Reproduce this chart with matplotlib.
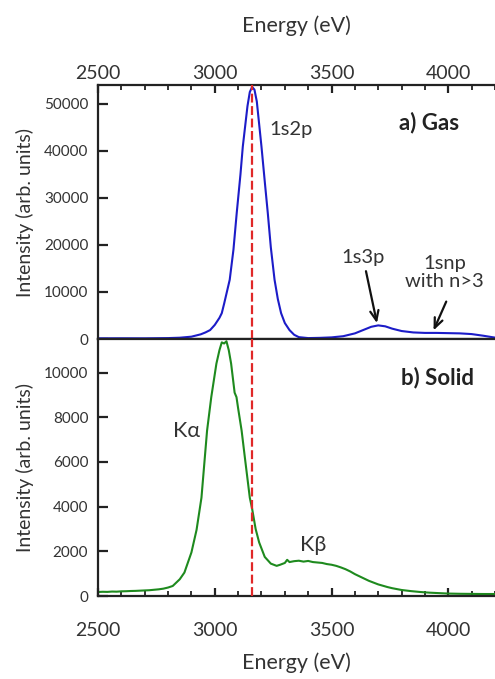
import matplotlib
matplotlib.use("Agg")
import matplotlib.pyplot as plt
from matplotlib.ticker import MultipleLocator

plt.rcParams['font.family'] = ['Lato', 'DejaVu Sans']

# Gas spectrum (panel a)
gas_energy = [2500, 2600, 2700, 2800, 2850, 2900, 2940, 2960, 2980, 3000, 3020, 3030,
              3040, 3064, 3080, 3094, 3110, 3120, 3140, 3150, 3160, 3170, 3180, 3200,
              3215, 3227, 3240, 3256, 3270, 3284, 3300, 3320, 3340, 3360, 3400, 3450,
              3500, 3550, 3600, 3640, 3670, 3700, 3730, 3760, 3800, 3850, 3900, 3950,
              4000, 4050, 4100, 4150, 4200]
gas_intensity = [150, 160, 150, 200, 280, 500, 1000, 1400, 1900, 3000, 4500, 5500,
                 7500, 12600, 19000, 26800, 35000, 40900, 49500, 52500, 53600, 53000, 50500, 40900,
                 33000, 26800, 19500, 12600, 8500, 5500, 3400, 1900, 900, 400, 200, 250,
                 350, 600, 1200, 2000, 2600, 2900, 2700, 2200, 1700, 1400, 1300, 1300,
                 1250, 1200, 1050, 700, 300]

# Solid spectrum (panel b)
solid_energy = [2500, 2520, 2540, 2560, 2580, 2600, 2620, 2640, 2660, 2680, 2700, 2720,
                2740, 2760, 2780, 2800, 2820, 2850, 2870, 2885, 2900, 2922, 2943, 2967,
                2985, 3007, 3020, 3030, 3040, 3050, 3060, 3070, 3085, 3093, 3100, 3115,
                3130, 3150, 3160, 3175, 3190, 3214, 3240, 3265, 3280, 3300, 3310, 3320,
                3340, 3360, 3380, 3400, 3420, 3440, 3460, 3480, 3500, 3520, 3540, 3560,
                3580, 3600, 3620, 3640, 3660, 3680, 3700, 3720, 3740, 3760, 3780, 3800,
                3840, 3880, 3920, 3960, 4000, 4050, 4100, 4150, 4200]
solid_intensity = [180, 190, 185, 200, 195, 210, 215, 225, 230, 240, 250, 260,
                   280, 300, 330, 380, 450, 750, 1050, 1500, 1950, 2960, 4400, 7400,
                   8900, 10400, 11000, 11350, 11300, 11400, 11000, 10400, 9100, 8900, 8400, 7400,
                   6100, 4400, 3900, 3000, 2400, 1750, 1450, 1350, 1400, 1480, 1620, 1520,
                   1560, 1580, 1540, 1570, 1520, 1500, 1480, 1430, 1400, 1350, 1280, 1200,
                   1100, 980, 880, 780, 680, 600, 520, 460, 400, 350, 310, 270,
                   220, 180, 150, 130, 110, 100, 95, 90, 90]

ref_energy = 3160

gas_ticks = [0, 10000, 20000, 30000, 40000, 50000]
solid_ticks = [0, 2000, 4000, 6000, 8000, 10000]
x_ticks = [2500, 3000, 3500, 4000]

fig = plt.figure(figsize=(4.95, 6.79), dpi=100)
left, width = 0.198, 0.802
ax1 = fig.add_axes([left, 0.5007, width, 0.3741])
ax2 = fig.add_axes([left, 0.1222, width, 0.3785], sharex=ax1)

blue = '#1c1cc8'
green = '#1e8a1e'
red = '#e02828'
spine_c = '#222222'
tick_c = '#333333'

ax1.plot(gas_energy, gas_intensity, color=blue, lw=1.5)
ax2.plot(solid_energy, solid_intensity, color=green, lw=1.5)

for ax in (ax1, ax2):
    ax.axvline(ref_energy, color=red, lw=1.6, ls=(0, (4, 1.6)), zorder=5)
    ax.spines['right'].set_visible(False)
    for s in ('left', 'top', 'bottom'):
        ax.spines[s].set_color(spine_c)
        ax.spines[s].set_linewidth(1.6)
    ax.tick_params(axis='y', direction='in', length=7, width=1.6, color=spine_c,
                   labelsize=11, labelcolor=tick_c, pad=7)

ax1.set_xlim(2500, 4200)
ax1.set_ylim(0, 54000)
ax2.set_ylim(0, 11500)
ax1.set_yticks(gas_ticks)
ax2.set_yticks(solid_ticks)

ax1.set_xticks(x_ticks)
ax1.xaxis.set_minor_locator(MultipleLocator(100))
ax1.xaxis.tick_top()
ax1.xaxis.set_label_position('top')
ax1.tick_params(axis='x', which='major', direction='in', length=6, width=1.6,
                color=spine_c, labelsize=14, labelcolor=tick_c, pad=2,
                top=True, bottom=False, labeltop=True, labelbottom=False)
ax1.tick_params(axis='x', which='minor', direction='in', length=3.8, width=1.3,
                color=spine_c, top=True, bottom=False)
ax2.tick_params(axis='x', which='major', direction='in', length=6, width=1.6,
                color=spine_c, labelsize=14, labelcolor=tick_c, pad=19,
                top=False, bottom=True, labeltop=False, labelbottom=True)
ax2.tick_params(axis='x', which='minor', direction='in', length=3.8, width=1.3,
                color=spine_c, top=False, bottom=True)

ax1.set_xlabel('Energy (eV)', fontsize=15.5, color=tick_c, labelpad=24)
ax2.set_xlabel('Energy (eV)', fontsize=15.5, color=tick_c, labelpad=9)
ax1.set_ylabel('Intensity (arb. units)', fontsize=14, color=tick_c, labelpad=7)
ax2.set_ylabel('Intensity (arb. units)', fontsize=14, color=tick_c, labelpad=7)

# Annotations panel a
ax1.text(3235, 44500, '1s2p', fontsize=14.5, color=tick_c, va='center', ha='left')
ax1.text(4047, 46000, 'a) Gas', fontsize=16, fontweight='bold', color='#222222',
         va='center', ha='right')
ax1.text(3637, 17400, '1s3p', fontsize=14.5, color=tick_c, va='center', ha='center')
ax1.text(3983, 14200, '1snp\nwith n>3', fontsize=14.5, color=tick_c, va='center',
         ha='center', linespacing=1.1)
arrow_kw = dict(arrowstyle='->,head_length=0.7,head_width=0.3', color='#111111', lw=1.6)
ax1.annotate('', xy=(3697, 2800), xytext=(3645, 15000), arrowprops=arrow_kw)
ax1.annotate('', xy=(3932, 1300), xytext=(3996, 8500), arrowprops=arrow_kw)

# Annotations panel b
ax2.text(4111, 9800, 'b) Solid', fontsize=16, fontweight='bold', color='#222222',
         va='center', ha='right')
ax2.text(2880, 7400, 'Kα', fontsize=15.5, color=tick_c, va='center', ha='center')
ax2.text(3420, 2300, 'Kβ', fontsize=15.5, color=tick_c, va='center', ha='center')

fig.savefig('out.png', dpi=100)
